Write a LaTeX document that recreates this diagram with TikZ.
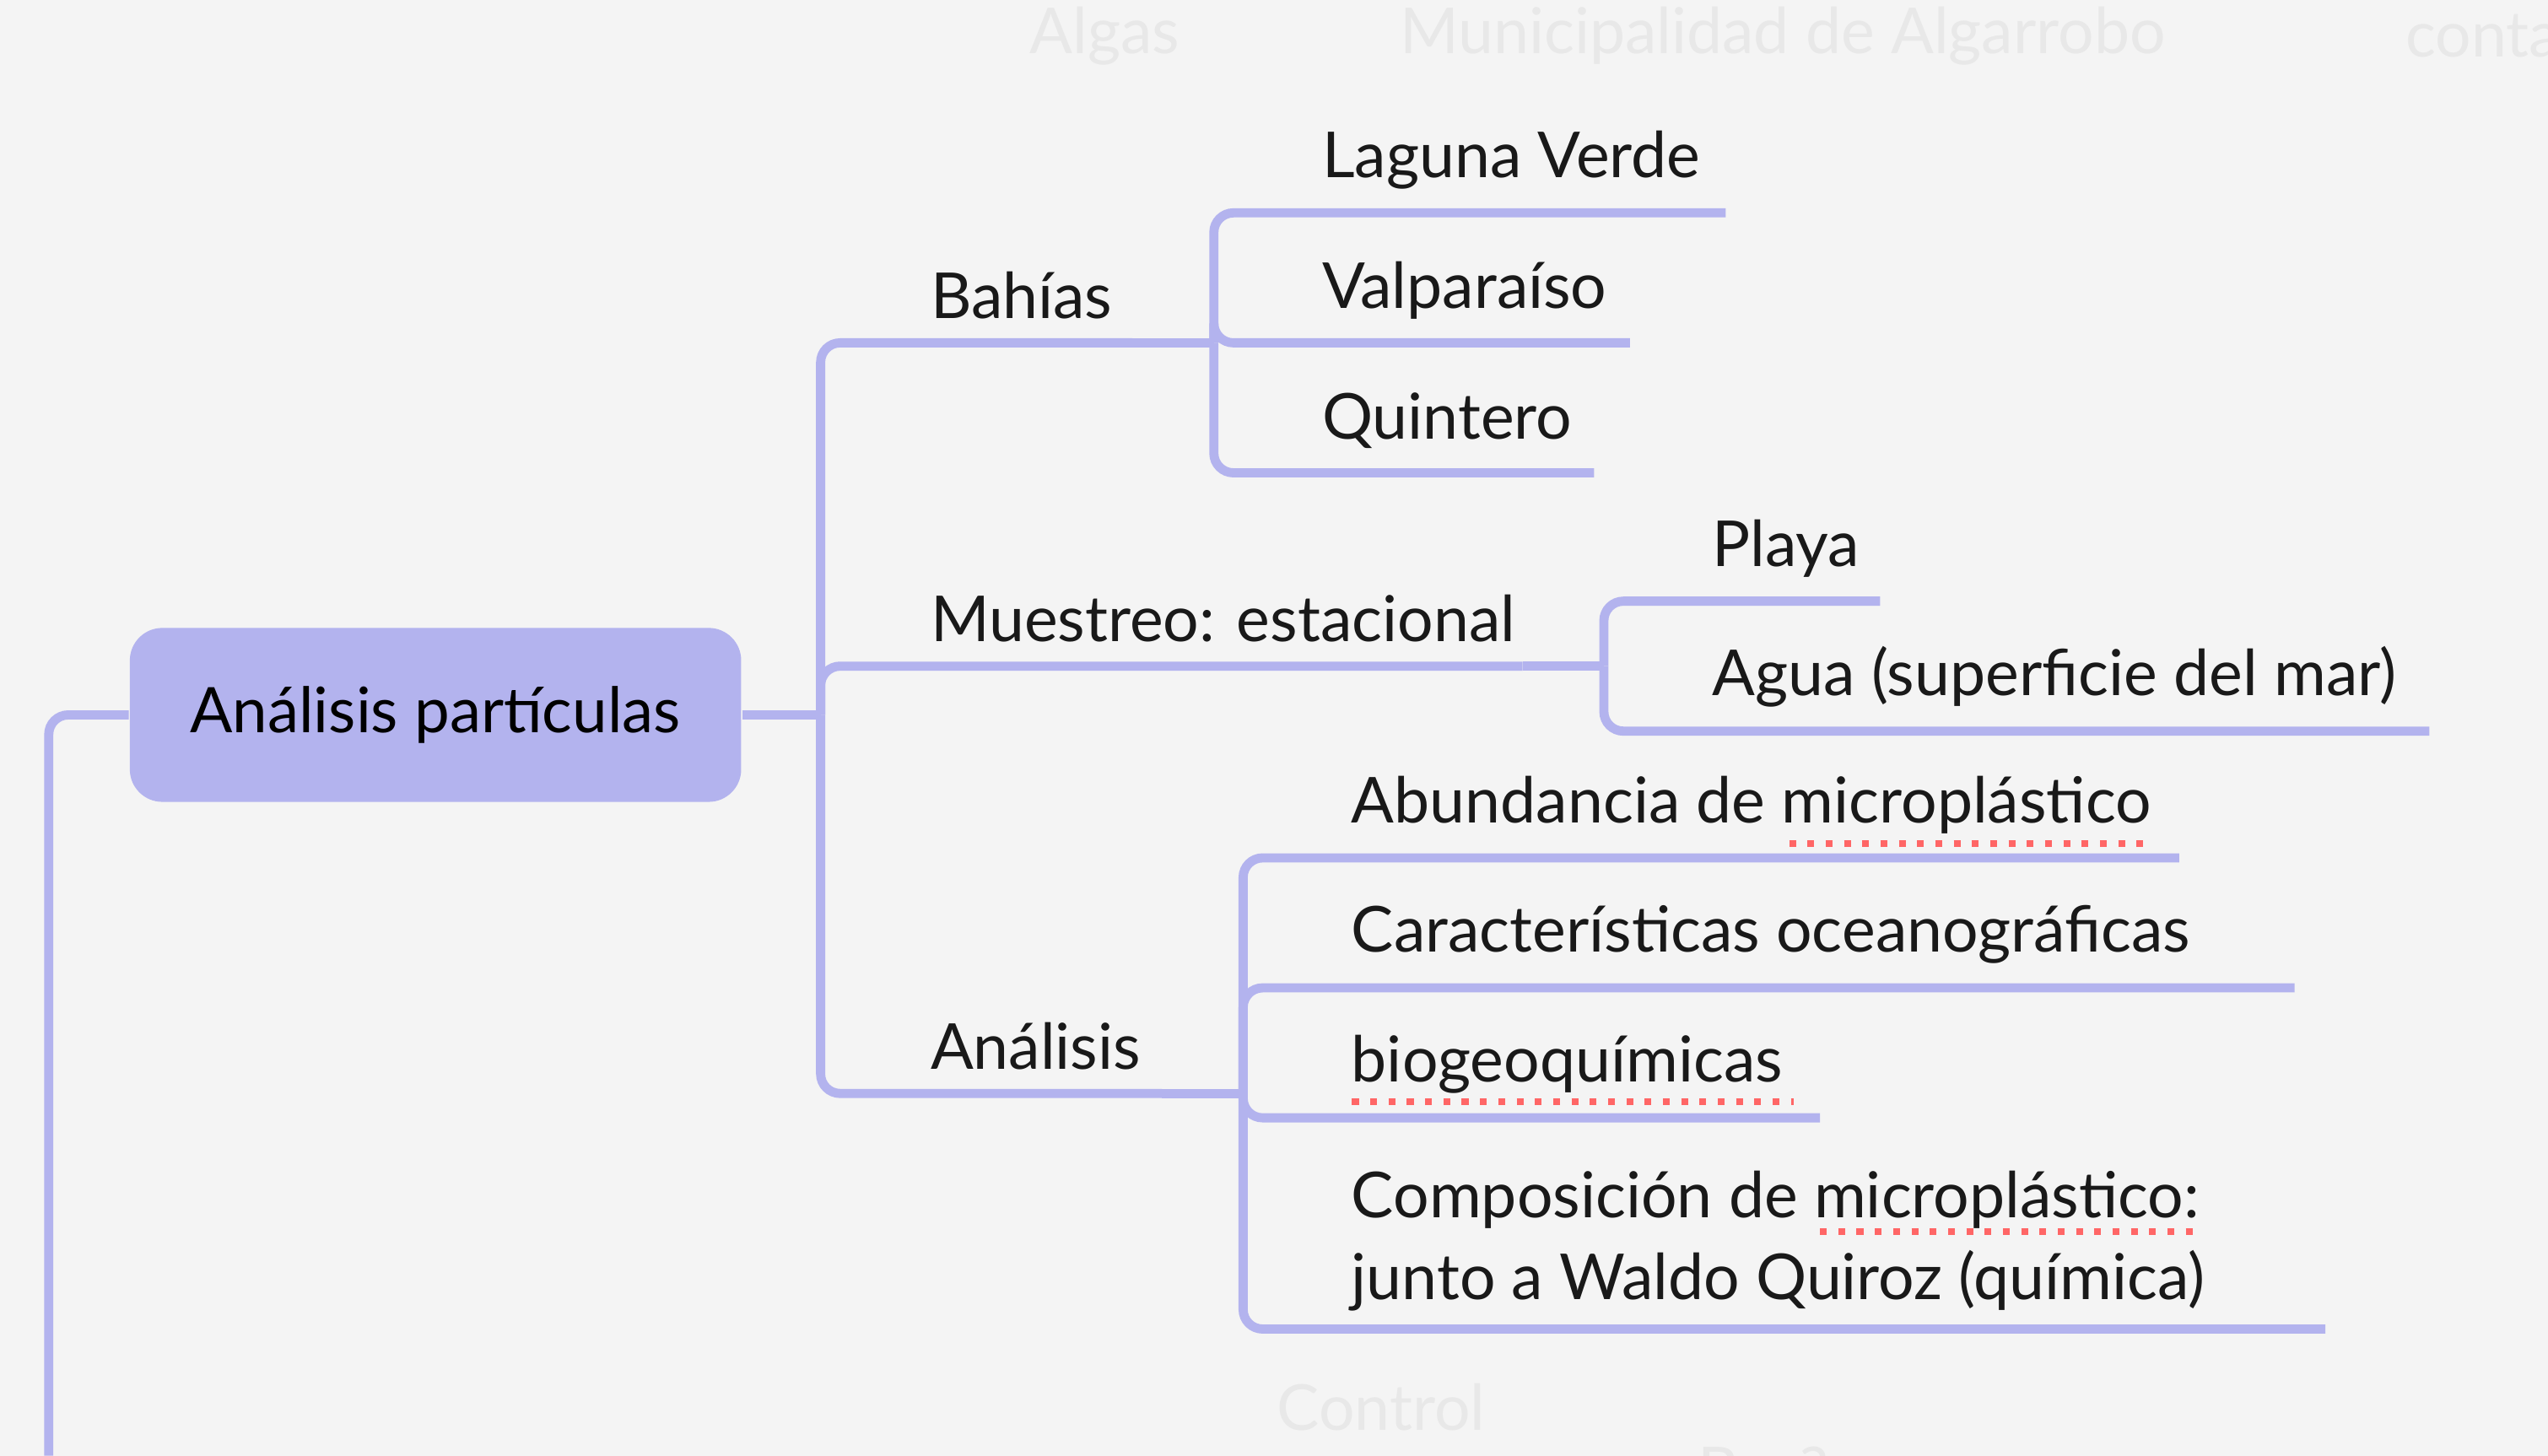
\documentclass[tikz,border=0pt]{standalone}
\usepackage{fontspec}
\setmainfont{Lato}
\usetikzlibrary{positioning}
\definecolor{branch}{RGB}{179,179,238}
\definecolor{paper}{RGB}{244,244,244}
\definecolor{ghost}{RGB}{232,232,232}
\tikzset{
  leaf/.style = {anchor=south west, inner xsep=0pt, inner ysep=4pt,
    font=\fontsize{11.1}{14.2}\selectfont, text=black!90, align=left},
  link/.style = {draw=branch, line width=1.6pt, rounded corners=0.12cm},
  spell/.style = {draw=red!60, line width=1.2pt, dotted},
  faint/.style = {text=ghost, font=\fontsize{11.1}{14}\selectfont}
}
\begin{document}
\begin{tikzpicture}[x=0.01cm, y=-0.01cm]
  \fill[paper] (0,0) rectangle (1568,896);
  \useasboundingbox (0,0) rectangle (1568,896);
  % faded neighbours
  \node[faint] (algas) at (680,22) {Algas};
  \node[faint] (muni) at (1097,22) {Municipalidad de Algarrobo};
  \node[faint, anchor=west] (conta) at (1468,22) {contacto};
  \node[faint] (ctrl) at (850,866) {Control};
  \node[faint, anchor=north] (bac) at (1085,878) {Bac?};
  % root
  \node[fill=branch, rounded corners=0.2cm, minimum width=3.76cm,
    minimum height=1.07cm, font=\fontsize{11}{14}\selectfont] (root)
    at (268,440) {Análisis partículas};
  \coordinate (down) at (30,896);
  \draw[link] (root.west) -| (down);
  \coordinate (hub) at (505,440);
  \draw[link] (root.east) -- (hub);
  % level one
  \node[leaf] (bahias) at (572,211) {Bahías};
  \node[leaf] (muestreo) at (572,410) {Muestreo: estacional};
  \node[leaf] (analisis) at (572,673) {Análisis};
  \coordinate (bEnd) at (697,211);
  \coordinate (mEnd) at (937,410);
  \coordinate (aEnd) at (715,673);
  \draw[link] (hub) |- (bEnd);
  \draw[link] (hub) |- (mEnd);
  \draw[link] (hub) |- (aEnd);
  % Bahías
  \coordinate (bj) at (747,211);
  \draw[link] (bEnd) -- (bj);
  \node[leaf] (laguna) at (813,131) {Laguna Verde};
  \node[leaf] (valpo) at (813,211) {Valparaíso};
  \node[leaf] (quint) at (813,291) {Quintero};
  \coordinate (lgEnd) at (1062,131);
  \coordinate (vpEnd) at (1003,211);
  \coordinate (qtEnd) at (981,291);
  \draw[link] (bj) |- (lgEnd);
  \draw[link] (bj) |- (vpEnd);
  \draw[link] (bj) |- (qtEnd);
  % Muestreo
  \coordinate (mj) at (987,410);
  \draw[link] (mEnd) -- (mj);
  \node[leaf] (playa) at (1053,370) {Playa};
  \node[leaf] (agua) at (1053,450) {Agua (superficie del mar)};
  \coordinate (plEnd) at (1157,370);
  \coordinate (agEnd) at (1495,450);
  \draw[link] (mj) |- (plEnd);
  \draw[link] (mj) |- (agEnd);
  % Análisis
  \coordinate (aj) at (765,673);
  \draw[link] (aEnd) -- (aj);
  \node[leaf] (abund) at (831,528) {Abundancia de microplástico};
  \node[leaf] (carac) at (831,608) {Características oceanográficas};
  \node[leaf] (biogeo) at (831,688) {biogeoquímicas};
  \node[leaf, inner ysep=3pt] (compo) at (831,818)
    {Composición de microplástico:\\junto a Waldo Quiroz (química)};
  \coordinate (abEnd) at (1341,528);
  \coordinate (caEnd) at (1412,608);
  \coordinate (biEnd) at (1120,688);
  \coordinate (coEnd) at (1431,818);
  \draw[link] (aj) |- (abEnd);
  \draw[link] (aj) |- (caEnd);
  \draw[link] (aj) |- (biEnd);
  \draw[link] (aj) |- (coEnd);
  % spelling marks
  \draw[spell] (1101,519) -- (1325,519);
  \draw[spell] (832,678) -- (1104,678);
  \draw[spell] (1120,758) -- (1350,758);
\end{tikzpicture}
\end{document}
